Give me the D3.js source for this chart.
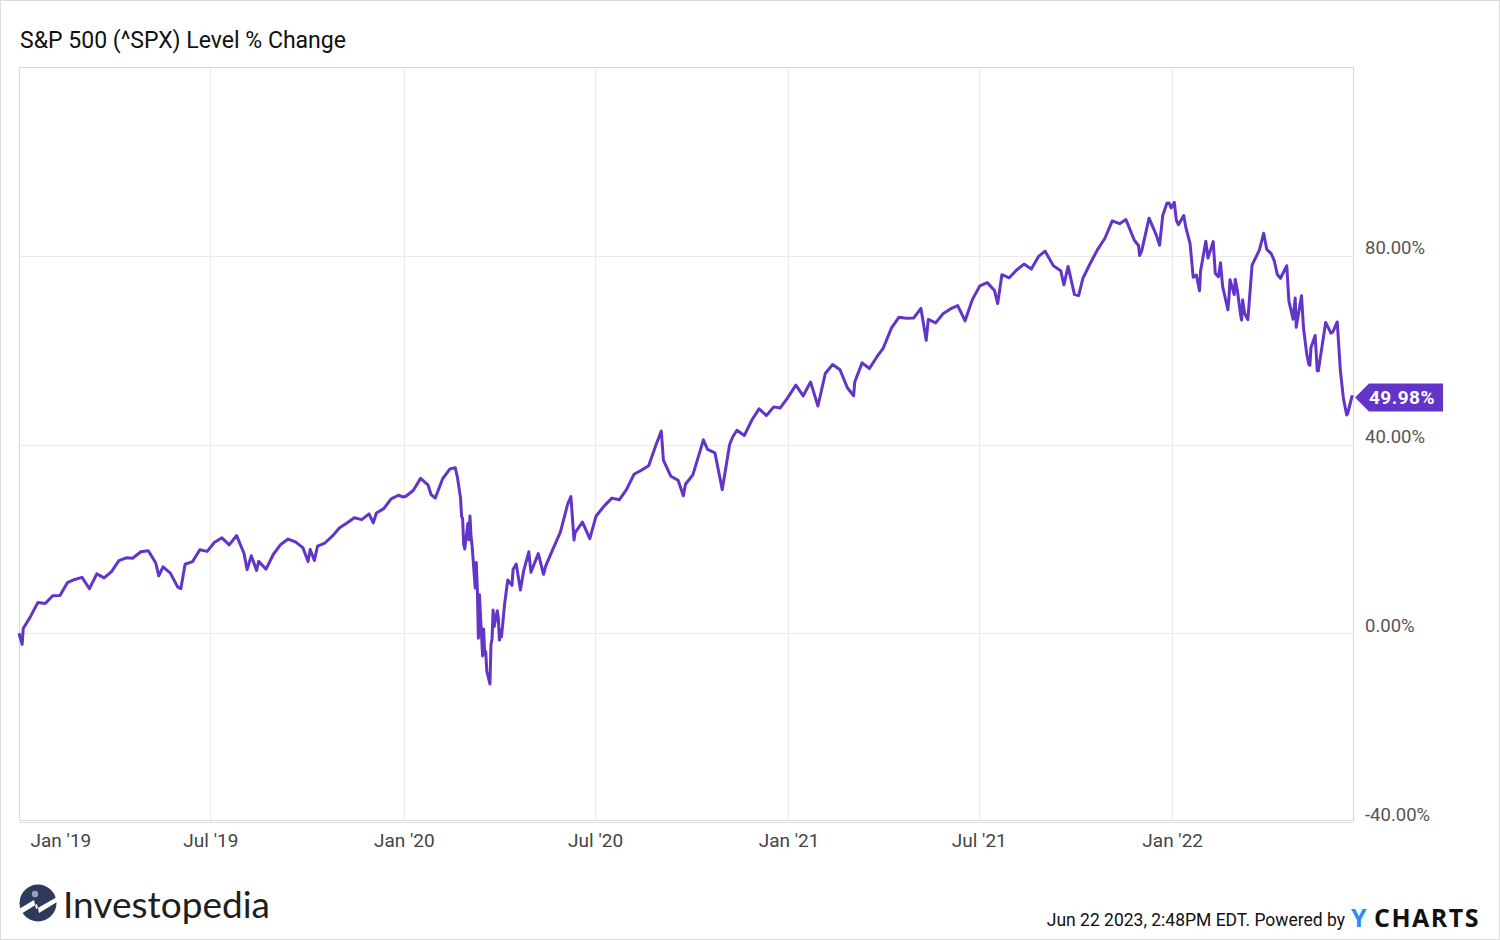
<!DOCTYPE html>
<html>
<head>
<meta charset="utf-8">
<script src="https://cdn.jsdelivr.net/npm/d3@7"></script>
<style>
  html, body { margin: 0; padding: 0; background: #fff; }
  svg { display: block; font-family: Roboto, "Noto Sans", sans-serif; }
</style>
</head>
<body>
<svg id="chart" width="1500" height="940"></svg>
<script>
'use strict';

// S&P 500 closes, base = close of Dec 31 2018
const BASE_LEVEL = 2506.85;

const dates2019 = ['2018-12-31','2019-01-03','2019-01-04','2019-01-11','2019-01-18','2019-01-25','2019-02-01','2019-02-08','2019-02-15','2019-02-22','2019-03-01','2019-03-08','2019-03-15','2019-03-22','2019-03-29','2019-04-05','2019-04-12','2019-04-18','2019-04-26','2019-05-03','2019-05-10','2019-05-13','2019-05-17','2019-05-24','2019-05-31','2019-06-03','2019-06-07','2019-06-14','2019-06-21','2019-06-28','2019-07-05','2019-07-12','2019-07-19','2019-07-26','2019-08-02','2019-08-05','2019-08-09','2019-08-14','2019-08-16','2019-08-23','2019-08-30','2019-09-06','2019-09-13','2019-09-20','2019-09-27','2019-10-02','2019-10-04','2019-10-08','2019-10-11','2019-10-18','2019-10-25','2019-11-01','2019-11-08','2019-11-15','2019-11-22','2019-11-29','2019-12-03','2019-12-06','2019-12-13','2019-12-20','2019-12-27','2019-12-31'];
const levels2019 = [2506.85,2447.89,2531.94,2596.26,2670.71,2664.76,2706.53,2707.88,2775.60,2792.67,2803.69,2743.07,2822.48,2800.71,2834.40,2892.74,2907.41,2905.03,2939.88,2945.64,2881.40,2811.87,2859.53,2826.06,2752.06,2744.45,2873.34,2886.98,2950.46,2941.76,2990.41,3013.77,2976.61,3025.86,2932.05,2844.74,2918.65,2840.60,2888.68,2847.11,2926.46,2978.71,3007.39,2992.07,2961.79,2887.61,2952.01,2893.06,2970.27,2986.20,3022.55,3066.91,3093.08,3120.46,3110.29,3140.98,3093.20,3145.91,3168.80,3221.22,3240.02,3230.78];

const dates2020 = ['2020-01-03','2020-01-10','2020-01-17','2020-01-24','2020-01-27','2020-01-31','2020-02-07','2020-02-14','2020-02-19','2020-02-21','2020-02-24','2020-02-25','2020-02-26','2020-02-27','2020-02-28','2020-03-02','2020-03-03','2020-03-04','2020-03-05','2020-03-06','2020-03-09','2020-03-10','2020-03-11','2020-03-12','2020-03-13','2020-03-16','2020-03-17','2020-03-18','2020-03-19','2020-03-20','2020-03-23','2020-03-24','2020-03-25','2020-03-26','2020-03-27','2020-03-30','2020-03-31','2020-04-01','2020-04-02','2020-04-03','2020-04-06','2020-04-08','2020-04-09','2020-04-13','2020-04-14','2020-04-17','2020-04-21','2020-04-24','2020-04-29','2020-05-01','2020-05-08','2020-05-13','2020-05-15','2020-05-22','2020-05-29','2020-06-05','2020-06-08','2020-06-11','2020-06-12','2020-06-19','2020-06-26','2020-07-02','2020-07-10','2020-07-17','2020-07-24','2020-07-31','2020-08-07','2020-08-14','2020-08-21','2020-08-28','2020-09-02','2020-09-04','2020-09-11','2020-09-18','2020-09-23','2020-09-25','2020-10-02','2020-10-09','2020-10-12','2020-10-16','2020-10-23','2020-10-30','2020-11-06','2020-11-09','2020-11-13','2020-11-20','2020-11-27','2020-12-04','2020-12-11','2020-12-18','2020-12-24','2020-12-31'];
const levels2020 = [3234.85,3265.35,3329.62,3295.47,3243.63,3225.52,3327.71,3380.16,3386.15,3337.75,3225.89,3128.21,3116.39,2978.76,2954.22,3090.23,3003.37,3130.12,3023.94,2972.37,2746.56,2882.23,2741.38,2480.64,2711.02,2386.13,2529.19,2398.10,2409.39,2304.92,2237.40,2447.33,2475.56,2630.07,2541.47,2626.65,2584.59,2470.50,2526.90,2488.65,2663.68,2749.98,2789.82,2761.63,2846.06,2874.56,2736.56,2836.74,2939.51,2830.71,2929.80,2820.00,2863.70,2955.45,3044.31,3193.93,3232.39,3002.10,3041.31,3097.74,3009.05,3130.01,3185.04,3224.73,3215.63,3271.12,3351.28,3372.85,3397.16,3508.01,3580.84,3426.96,3340.97,3319.47,3236.92,3298.46,3348.42,3477.13,3534.22,3483.81,3465.39,3269.96,3509.44,3550.50,3585.15,3557.54,3638.35,3699.12,3663.46,3709.41,3703.06,3756.07];

const dates2021 = ['2021-01-08','2021-01-15','2021-01-22','2021-01-27','2021-01-29','2021-02-05','2021-02-12','2021-02-19','2021-02-26','2021-03-04','2021-03-05','2021-03-12','2021-03-19','2021-03-26','2021-04-01','2021-04-09','2021-04-16','2021-04-23','2021-04-30','2021-05-07','2021-05-12','2021-05-14','2021-05-21','2021-05-28','2021-06-04','2021-06-11','2021-06-18','2021-06-25','2021-07-02','2021-07-09','2021-07-16','2021-07-19','2021-07-23','2021-07-30','2021-08-06','2021-08-13','2021-08-20','2021-08-27','2021-09-02','2021-09-10','2021-09-17','2021-09-20','2021-09-24','2021-09-30','2021-10-04','2021-10-08','2021-10-15','2021-10-22','2021-10-29','2021-11-05','2021-11-12','2021-11-18','2021-11-26','2021-11-30','2021-12-01','2021-12-03','2021-12-10','2021-12-17','2021-12-20','2021-12-23','2021-12-27','2021-12-29','2021-12-31'];
const levels2021 = [3824.68,3768.25,3841.47,3750.77,3714.24,3886.83,3934.83,3906.71,3811.15,3768.47,3841.94,3943.34,3913.10,3974.54,4019.87,4128.80,4185.47,4180.17,4181.17,4232.60,4063.04,4173.85,4155.86,4204.11,4229.89,4247.44,4166.45,4280.70,4352.34,4369.55,4327.16,4258.49,4411.79,4395.26,4436.52,4468.00,4441.67,4509.37,4536.95,4458.58,4432.99,4357.73,4455.48,4307.54,4300.46,4391.34,4471.37,4544.90,4605.38,4697.53,4682.85,4704.54,4594.62,4567.00,4513.04,4538.43,4712.02,4620.64,4568.02,4725.79,4791.19,4793.06,4766.18];

const dates2022 = ['2022-01-03','2022-01-05','2022-01-07','2022-01-12','2022-01-14','2022-01-18','2022-01-21','2022-01-24','2022-01-27','2022-01-28','2022-02-02','2022-02-04','2022-02-09','2022-02-11','2022-02-14','2022-02-16','2022-02-18','2022-02-23','2022-02-24','2022-02-25','2022-03-01','2022-03-02','2022-03-04','2022-03-07','2022-03-08','2022-03-09','2022-03-11','2022-03-14','2022-03-18','2022-03-25','2022-03-29','2022-04-01','2022-04-05','2022-04-08','2022-04-11','2022-04-14','2022-04-20','2022-04-22','2022-04-26','2022-04-28','2022-04-29','2022-05-04','2022-05-06','2022-05-09','2022-05-11','2022-05-12','2022-05-13','2022-05-17','2022-05-19','2022-05-20','2022-05-27','2022-06-01','2022-06-03','2022-06-07','2022-06-10','2022-06-13','2022-06-16','2022-06-17','2022-06-21','2022-06-22'];
const levels2022 = [4796.56,4700.58,4677.03,4726.35,4662.85,4577.11,4397.94,4410.13,4326.51,4431.85,4589.38,4500.53,4587.18,4418.64,4401.67,4475.01,4348.87,4225.50,4288.70,4384.65,4306.26,4386.54,4328.87,4201.09,4170.70,4277.88,4204.31,4173.11,4463.12,4543.06,4631.60,4545.86,4525.12,4488.28,4412.53,4392.59,4459.45,4271.78,4175.20,4287.50,4131.93,4300.17,4123.34,3991.24,3935.18,3930.08,4023.89,4088.85,3900.79,3901.36,4158.24,4101.23,4108.54,4160.68,3900.86,3749.63,3666.77,3674.84,3764.79,3759.89];

const xTickDates = ['2019-01-01','2019-07-01','2020-01-01','2020-07-01','2021-01-01','2021-07-01','2022-01-01'];
const xTickLabels = ["Jan '19","Jul '19","Jan '20","Jul '20","Jan '21","Jul '21","Jan '22"];
const yTickValues = [-40, 0, 40, 80];
const yTickLabels = ['-40.00%','0.00%','40.00%','80.00%'];

const TITLE = 'S&P 500 (^SPX) Level % Change';
const LAST_LABEL = '49.98%';
const PURPLE = '#6234c8';

const parseDate = d3.timeParse('%Y-%m-%d');

const allDates = [].concat(dates2019, dates2020, dates2021, dates2022);
const allLevels = [].concat(levels2019, levels2020, levels2021, levels2022);

const series = allDates.map(function(d, i) {
	return { date: parseDate(d), pct: (allLevels[i] / BASE_LEVEL - 1) * 100 };
});

const svg = d3.select('#chart');

// plot box
const plotLeft = 19, plotRight = 1353, plotTop = 67, plotBottom = 822;

const x = d3.scaleTime()
	.domain([parseDate('2018-12-31'), parseDate('2022-06-22')])
	.range([plotLeft, plotRight]);

const y = d3.scaleLinear()
	.domain([-40, 120])
	.range([plotBottom, plotTop]);

// outer frame
svg.append('rect')
	.attr('x', 0.5).attr('y', 0.5)
	.attr('width', 1499).attr('height', 939)
	.attr('fill', 'none')
	.attr('stroke', '#dcdcdc');

// title (the original font runs a bit narrow)
svg.append('text')
	.attr('x', 20).attr('y', 48)
	.attr('font-size', 24)
	.attr('fill', '#111')
	.attr('textLength', 326)
	.attr('lengthAdjust', 'spacingAndGlyphs')
	.text(TITLE);

// horizontal gridlines
svg.append('g')
	.selectAll('line')
	.data(yTickValues)
	.enter()
	.append('line')
	.attr('x1', plotLeft).attr('x2', plotRight)
	.attr('y1', d => Math.round(y(d)) + 0.5)
	.attr('y2', d => Math.round(y(d)) + 0.5)
	.attr('stroke', '#ebebeb');

// vertical gridlines (Jan '19 sits on the left border)
svg.append('g')
	.selectAll('line')
	.data(xTickDates.slice(1))
	.enter()
	.append('line')
	.attr('x1', d => Math.round(x(parseDate(d))) + 0.5)
	.attr('x2', d => Math.round(x(parseDate(d))) + 0.5)
	.attr('y1', plotTop).attr('y2', plotBottom)
	.attr('stroke', '#ebebeb');

// plot border
svg.append('rect')
	.attr('x', plotLeft + 0.5).attr('y', plotTop + 0.5)
	.attr('width', plotRight - plotLeft).attr('height', plotBottom - 2 - plotTop)
	.attr('fill', 'none')
	.attr('stroke', '#d9d9d9');

// x axis labels
const xAxis = d3.axisBottom(x)
	.tickValues(xTickDates.map(parseDate))
	.tickSize(0)
	.tickFormat((d, i) => xTickLabels[i]);

const gx = svg.append('g')
	.attr('transform', `translate(0,${plotBottom})`)
	.call(xAxis);
gx.select('.domain').attr('stroke', '#e0e0e0');
gx.selectAll('text')
	.attr('y', 25)
	.attr('dy', 0)
	.attr('font-size', 19)
	.attr('font-family', 'Roboto, sans-serif')
	.attr('fill', '#444');
// first label would fall outside the box, so push it right
gx.selectAll('.tick').filter((d, i) => i === 0)
	.select('text')
	.attr('text-anchor', 'start')
	.attr('x', 10);

// y axis labels on the right
const yAxis = d3.axisRight(y)
	.tickValues(yTickValues)
	.tickSize(0)
	.tickFormat((d, i) => yTickLabels[i]);

const gy = svg.append('g')
	.attr('transform', `translate(${plotRight},0)`)
	.call(yAxis);
gy.select('.domain').remove();
gy.selectAll('text')
	.attr('x', 12)
	.attr('dy', -2)
	.attr('font-size', 18.5)
	.attr('font-family', 'Roboto, sans-serif')
	.attr('fill', '#555');

// the line
const line = d3.line()
	.x(d => x(d.date))
	.y(d => y(d.pct));

svg.append('path')
	.datum(series)
	.attr('d', line)
	.attr('fill', 'none')
	.attr('stroke', PURPLE)
	.attr('stroke-width', 3)
	.attr('stroke-linejoin', 'round');

// last value flag
const last = series[series.length - 1];
const ly = y(last.pct);
const flag = svg.append('g').attr('transform', `translate(${plotRight + 2},${ly})`);
flag.append('path')
	.attr('d', 'M0,0 L14,-14 L88,-14 L88,14 L14,14 Z')
	.attr('fill', PURPLE);
flag.append('text')
	.attr('x', 47).attr('y', 7)
	.attr('text-anchor', 'middle')
	.attr('font-size', 19)
	.attr('font-weight', 'bold')
	.attr('fill', '#fff')
	.attr('letter-spacing', 0.5)
	.text(LAST_LABEL);

// Investopedia logo
const logo = svg.append('g').attr('transform', 'translate(38,903)');
logo.append('circle').attr('r', 18.5).attr('fill', '#2e3a5c');
logo.append('path')
	.attr('d', 'M-19,6 L-4,-3 L-2,6 L19,-6 L19,-1 L1,10 L-1,1 L-17,11 Z')
	.attr('fill', '#fff');
logo.append('circle').attr('cx', -3).attr('cy', -9).attr('r', 3.2).attr('fill', '#9aa3b5');
svg.append('text')
	.attr('x', 63).attr('y', 918)
	.attr('font-size', 36)
	.attr('font-family', 'Lato, "Noto Sans", sans-serif')
	.attr('fill', '#1f1f1f')
	.attr('textLength', 207)
	.attr('lengthAdjust', 'spacingAndGlyphs')
	.text('Investopedia');

// footer
svg.append('text')
	.attr('x', 1345).attr('y', 926)
	.attr('text-anchor', 'end')
	.attr('font-size', 17.5)
	.attr('fill', '#111')
	.text('Jun 22 2023, 2:48PM EDT. Powered by');
svg.append('text')
	.attr('x', 1351).attr('y', 927)
	.attr('font-size', 25)
	.attr('font-weight', 'bold')
	.attr('font-family', '"Open Sans", "DejaVu Sans", sans-serif')
	.attr('fill', '#2d8cf0')
	.text('Y');
svg.append('text')
	.attr('x', 1374).attr('y', 927)
	.attr('font-size', 25)
	.attr('font-weight', 'bold')
	.attr('font-family', '"Open Sans", "DejaVu Sans", sans-serif')
	.attr('fill', '#111')
	.attr('letter-spacing', 1.5)
	.text('CHARTS');
</script>
</body>
</html>
